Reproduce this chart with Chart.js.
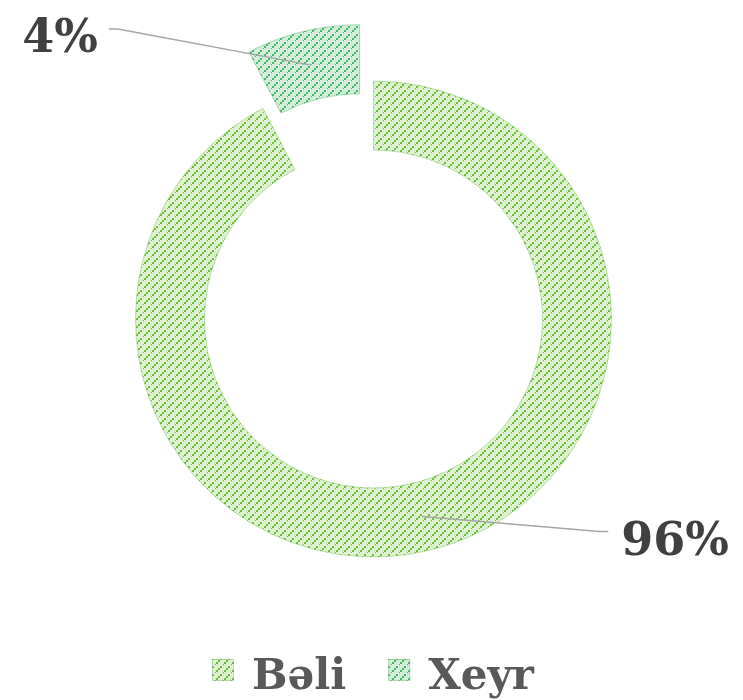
<!DOCTYPE html>
<html>
<head>
<meta charset="utf-8">
<script src="https://cdn.jsdelivr.net/npm/chart.js@4.4.0/dist/chart.umd.min.js"></script>
<style>
    html, body { margin: 0; padding: 0; background: #ffffff; }
    #wrap { width: 743px; height: 700px; position: relative; }
</style>
</head>
<body>
<div id="wrap"><canvas id="donut-canvas"></canvas></div>
<script>
// Categories shown in the legend
var categories = ['Bəli', 'Xeyr'];
// Slice sizes as they are drawn in the picture (big slice spans about 332 degrees)
var sliceValues = [92.3, 7.7];
// Label text printed next to each slice
var valueLabels = ['96%', '4%'];

// Build a small repeating "dashed diagonal" tile like the Excel fill
function makePattern(base, dash) {
    var tile = document.createElement('canvas');
    tile.width = 8;
    tile.height = 8;
    var t = tile.getContext('2d');
    t.fillStyle = base;
    t.fillRect(0, 0, 8, 8);
    t.fillStyle = dash;
    t.fillRect(0, 6, 2, 2);
    t.fillRect(2, 4, 2, 2);
    t.fillRect(4, 2, 2, 2);
    t.fillRect(7, 0, 1, 1);
    return t.createPattern(tile, 'repeat');
}

document.addEventListener('DOMContentLoaded', function() {
    var canvas = document.getElementById('donut-canvas');
    var ctx = canvas.getContext('2d');

    var fills = [
        makePattern('#dff2d0', '#6abf3e'),
        makePattern('#d2eedb', '#46b765')
    ];

    // Pull slices out from the centre along their middle angle (like Excel's explosion)
    var explodePlugin = {
        id: 'explode',
        afterUpdate: function(chart, args, opts) {
            var meta = chart.getDatasetMeta(0);
            meta.data.forEach(function(arc, i) {
                var d = opts.distance[i] || 0;
                if (!d) return;
                var mid = (arc.startAngle + arc.endAngle) / 2;
                arc.x += Math.cos(mid) * d;
                arc.y += Math.sin(mid) * d;
            });
        }
    };

    // Leader lines and percentage labels
    var labelPlugin = {
        id: 'sliceLabels',
        afterDatasetsDraw: function(chart, args, opts) {
            var c = chart.ctx;
            var meta = chart.getDatasetMeta(0);
            meta.data.forEach(function(arc, i) {
                var p = arc.getProps(['x', 'y', 'startAngle', 'endAngle', 'innerRadius', 'outerRadius'], true);
                var mid = (p.startAngle + p.endAngle) / 2;
                var r = (p.innerRadius + p.outerRadius) / 2;
                var ax = p.x + Math.cos(mid) * r;
                var ay = p.y + Math.sin(mid) * r;
                var el = opts.elbows[i];
                var ex = ax + el[0];
                var ey = ay + el[1];
                var side = el[0] > 0 ? 1 : -1;
                var tx = ex + side * opts.tail;

                c.save();
                c.strokeStyle = '#a6a6a6';
                c.lineWidth = 1.5;
                c.beginPath();
                c.moveTo(ax, ay);
                c.lineTo(ex, ey);
                c.lineTo(tx, ey);
                c.stroke();

                c.fillStyle = '#404040';
                c.font = 'bold 46px "DejaVu Serif"';
                c.textAlign = side > 0 ? 'left' : 'right';
                c.textBaseline = 'alphabetic';
                c.fillText(valueLabels[i], tx + side * opts.gap[i], ey + 23);
                c.restore();
            });
        }
    };

    // Legend drawn at the bottom with the same pattern fills
    var legendPlugin = {
        id: 'bottomLegend',
        afterDraw: function(chart, args, opts) {
            var c = chart.ctx;
            c.save();
            c.font = 'bold 42px "DejaVu Serif"';
            var box = 22, gapText = 18, gapItem = 42;
            var widths = categories.map(function(name) {
                return box + gapText + c.measureText(name).width;
            });
            var total = widths.reduce(function(a, b) { return a + b; }, 0) + gapItem * (widths.length - 1);
            var x = opts.centerX - total / 2;
            var boxTop = chart.height - 41;
            categories.forEach(function(name, i) {
                c.fillStyle = fills[i];
                c.fillRect(x, boxTop, box, box);
                c.strokeStyle = 'rgba(110, 180, 90, 0.4)';
                c.lineWidth = 1;
                c.strokeRect(x + 0.5, boxTop + 0.5, box - 1, box - 1);
                c.fillStyle = '#595959';
                c.textAlign = 'left';
                c.textBaseline = 'alphabetic';
                c.fillText(name, x + box + gapText, boxTop + 30);
                x += widths[i] + gapItem;
            });
            c.restore();
        }
    };

    new Chart(ctx, {
        type: 'doughnut',
        data: {
            labels: categories,
            datasets: [{
                data: sliceValues,
                backgroundColor: fills,
                borderColor: ['rgba(120, 190, 80, 0.45)', 'rgba(80, 180, 110, 0.45)'],
                borderWidth: 1,
                hoverOffset: 0
            }]
        },
        options: {
            responsive: true,
            maintainAspectRatio: false,
            animation: false,
            radius: 238,
            cutout: '71%',
            layout: {
                padding: { left: 4, right: 0, top: 0, bottom: 62 }
            },
            plugins: {
                legend: { display: false },
                tooltip: { enabled: false },
                explode: { distance: [0, 58] },
                sliceLabels: {
                    elbows: [[177, 15], [-193, -36]],
                    tail: 9,
                    gap: [13, 11]
                },
                bottomLegend: { centerX: 373 }
            }
        },
        plugins: [explodePlugin, labelPlugin, legendPlugin]
    });
});
</script>
</body>
</html>
